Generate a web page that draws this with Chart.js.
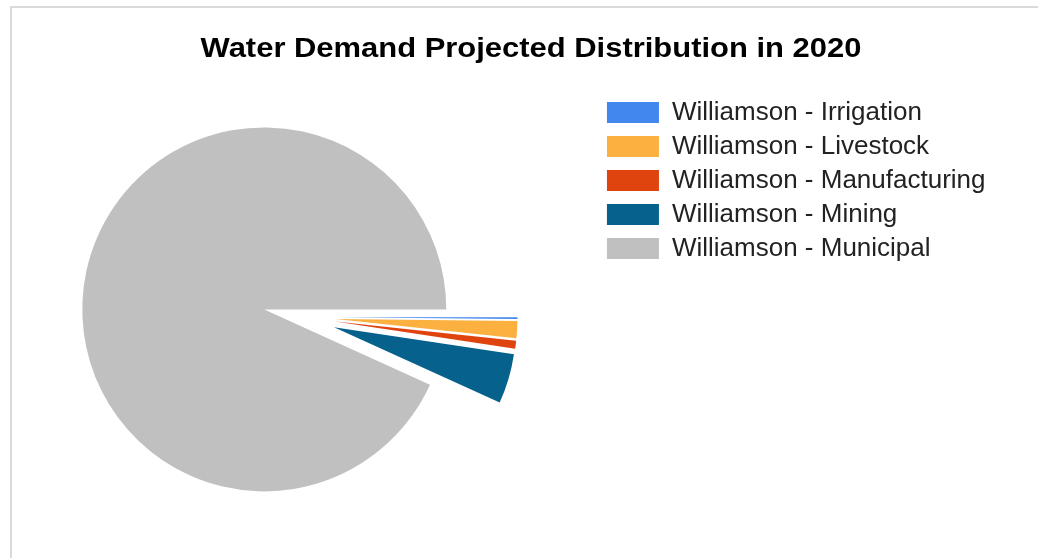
<!DOCTYPE html>
<html>
<head>
<meta charset="utf-8">
<script src="https://cdn.jsdelivr.net/npm/chart.js@4.4.1/dist/chart.umd.min.js"></script>
<style>
  html, body { margin: 0; padding: 0; background: #ffffff; overflow: hidden; width: 1038px; height: 558px; }
  #frame { position: absolute; left: 10px; top: 6px; width: 1100px; height: 640px; border: 2px solid #dadada; box-sizing: border-box; }
  #title { position: absolute; left: 24px; width: 1014px; top: 34px; text-align: center;
           font: bold 28px "Liberation Sans", Arial, sans-serif; line-height: 28px; color: #000;
           transform: scaleX(1.105); transform-origin: 507px 50%; }
  #c { position: absolute; left: 0; top: 0; }
</style>
</head>
<body>
<div id="frame"></div>
<canvas id="c" width="1038" height="558"></canvas>
<div id="title"></div>
<script>
// ---- data ----
const chartTitle = 'Water Demand Projected Distribution in 2020';
const categories = [
  'Williamson - Irrigation',
  'Williamson - Livestock',
  'Williamson - Manufacturing',
  'Williamson - Mining',
  'Williamson - Municipal'
];
const demand = [130, 1200, 560, 3500, 74000];
const sliceColors = ['#4287ee', '#fbb03f', '#e0440e', '#06628d', '#c0c0c0'];
const sliceOffset = [144, 144, 144, 144, 144];   // Chart.js translates a slice by offset/4
const PIE_RADIUS = 182;

document.getElementById('title').textContent = chartTitle;

Chart.defaults.font.family = '"Liberation Sans", Arial, sans-serif';

// Chart.js grows the radius and narrows the angle of offset slices;
// undo both so every exploded slice keeps its true angle and radius.
const explodeFix = {
  id: 'explodeFix',
  afterDatasetUpdate(chart, args) {
    args.meta.data.forEach((arc, i) => {
      const shift = (sliceOffset[i] || 0) / 4;
      const fix = 1 - Math.sin(Math.min(Math.PI, arc.circumference || 0));
      const radiusOffset = shift * fix;
      arc.outerRadius = PIE_RADIUS - radiusOffset;
      const widen = radiusOffset / (Math.PI * PIE_RADIUS) / 2;
      arc.startAngle -= widen;
      arc.endAngle += widen;
    });
  }
};

new Chart(document.getElementById('c'), {
  type: 'pie',
  data: {
    labels: categories,
    datasets: [{
      data: demand,
      backgroundColor: sliceColors,
      borderWidth: 0,
      offset: sliceOffset,
      hoverOffset: 0
    }]
  },
  options: {
    responsive: false,
    animation: false,
    events: [],
    rotation: 90,
    radius: PIE_RADIUS,
    layout: { padding: { left: 0, right: 42.5, top: 91.5, bottom: 15.5 } },
    plugins: {
      title: { display: false },
      tooltip: { enabled: false },
      legend: {
        display: true,
        position: 'right',
        align: 'start',
        labels: {
          boxWidth: 52,
          boxHeight: 21,
          padding: 8,
          color: '#222222',
          font: { size: 26 }
        }
      }
    }
  },
  plugins: [explodeFix]
});
</script>
</body>
</html>
